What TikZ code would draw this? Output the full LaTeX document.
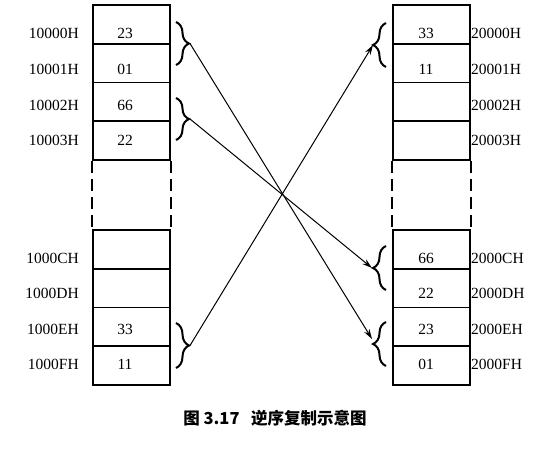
\documentclass[tikz,border=0pt]{standalone}
\usepackage{fontspec}
\setmainfont{Liberation Serif}
\newfontfamily\cjk{Noto Sans CJK SC}
\usetikzlibrary{decorations.pathreplacing, arrows.meta}
\tikzset{
cell/.style={draw, line width=1.7pt, minimum width=77pt, minimum height=38.75pt, inner sep=0pt},
txt/.style={font=\fontsize{15.5}{18}\selectfont, inner sep=0pt},
brc/.style={decorate, decoration={brace, amplitude=13pt}, line width=2pt},
arr/.style={-{Stealth[length=10pt, width=6pt]}, line width=1pt},
gap/.style={line width=1.7pt, dash pattern=on 12pt off 6pt}
}
\begin{document}
\begin{tikzpicture}[x=1pt,y=-1pt]
  \useasboundingbox (0,0) rectangle (560,455);
  % source block
  \node[cell] (L0) at (131.5,24.375) {};
  \node[cell] (L1) at (131.5,63.125) {};
  \node[cell] (L2) at (131.5,101.875) {};
  \node[cell] (L3) at (131.5,140.625) {};
  \node[cell] (LC) at (131.5,249.375) {};
  \node[cell] (LD) at (131.5,288.125) {};
  \node[cell] (LE) at (131.5,326.875) {};
  \node[cell] (LF) at (131.5,365.625) {};
  \draw[gap] (L3.south west) -- (LC.north west);
  \draw[gap] (L3.south east) -- (LC.north east);
  % target block
  \node[cell] (R0) at (431.5,24.375) {};
  \node[cell] (R1) at (431.5,63.125) {};
  \node[cell] (R2) at (431.5,101.875) {};
  \node[cell] (R3) at (431.5,140.625) {};
  \node[cell] (RC) at (431.5,249.375) {};
  \node[cell] (RD) at (431.5,288.125) {};
  \node[cell] (RE) at (431.5,326.875) {};
  \node[cell] (RF) at (431.5,365.625) {};
  \draw[gap] (R3.south west) -- (RC.north west);
  \draw[gap] (R3.south east) -- (RC.north east);
  % addresses
  \node[txt, anchor=east] (aL0) at (79,33) {10000H};
  \node[txt, anchor=east] (aL1) at (79,69) {10001H};
  \node[txt, anchor=east] (aL2) at (79,105) {10002H};
  \node[txt, anchor=east] (aL3) at (79,140) {10003H};
  \node[txt, anchor=east] (aLC) at (79,258) {1000CH};
  \node[txt, anchor=east] (aLD) at (79,293) {1000DH};
  \node[txt, anchor=east] (aLE) at (79,329) {1000EH};
  \node[txt, anchor=east] (aLF) at (79,364.5) {1000FH};
  \node[txt, anchor=west] (aR0) at (471,33) {20000H};
  \node[txt, anchor=west] (aR1) at (471,69) {20001H};
  \node[txt, anchor=west] (aR2) at (471,105) {20002H};
  \node[txt, anchor=west] (aR3) at (471,140) {20003H};
  \node[txt, anchor=west] (aRC) at (471,258) {2000CH};
  \node[txt, anchor=west] (aRD) at (471,293) {2000DH};
  \node[txt, anchor=west] (aRE) at (471,329) {2000EH};
  \node[txt, anchor=west] (aRF) at (471,364.5) {2000FH};
  % data
  \node[txt] (dL0) at (125,33) {23};
  \node[txt] (dL1) at (125,69) {01};
  \node[txt] (dL2) at (125,105) {66};
  \node[txt] (dL3) at (125,140) {22};
  \node[txt] (dLE) at (125,329) {33};
  \node[txt] (dLF) at (125,364.5) {11};
  \node[txt] (dR0) at (426,33) {33};
  \node[txt] (dR1) at (426,69) {11};
  \node[txt] (dRC) at (426,258) {66};
  \node[txt] (dRD) at (426,293) {22};
  \node[txt] (dRE) at (426,329) {23};
  \node[txt] (dRF) at (426,364.5) {01};
  % braces
  \draw[brc] (176,22) -- (176,65);
  \draw[brc] (176,98) -- (176,140);
  \draw[brc] (176,323) -- (176,368);
  \draw[brc] (386,67) -- (386,23);
  \draw[brc] (386,290) -- (386,246);
  \draw[brc] (386,366) -- (386,322);
  \coordinate (tl1) at (190,43.5);
  \coordinate (tl2) at (190,119);
  \coordinate (tl3) at (190,345.5);
  \coordinate (tr1) at (373,45);
  \coordinate (tr2) at (372,268);
  \coordinate (tr3) at (372,339);
  % copy arrows
  \draw[arr] (tl1) -- (tr3);
  \draw[arr] (tl2) -- (tr2);
  \draw[arr] (tl3) -- (tr1);
  % caption
  \node[font=\cjk\bfseries\fontsize{16.5}{20}\selectfont, inner sep=0pt] (cap) at (275,418) {图 3.17\hspace{0.7em}逆序复制示意图};
\end{tikzpicture}
\end{document}
